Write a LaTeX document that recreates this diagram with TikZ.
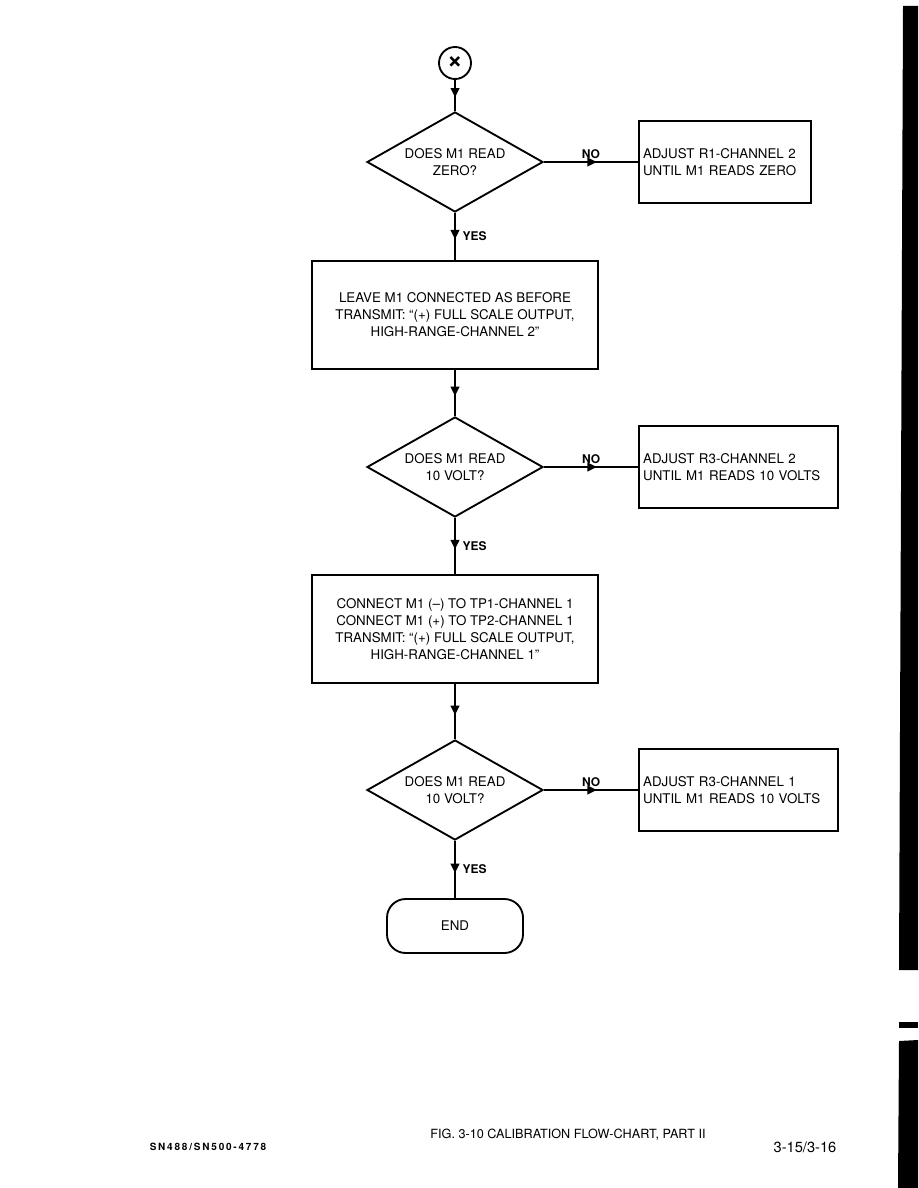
\documentclass[tikz,border=0pt]{standalone}
\usepackage{fontspec}
\setmainfont{TeX Gyre Heros}
\usepackage{tikz}
\usetikzlibrary{
    positioning,
    arrows.meta,
    shapes.geometric,
    decorations.markings,
    calc
}
\tikzset{
    chart/.style={
        font=\fontsize{10}{12.75}\selectfont,
        draw,
        line width=1.4pt,
        fill=white,
    },
    decision/.style={
        chart,
        diamond,
        aspect=1.76,
        minimum width=132pt,
        minimum height=75pt,
        inner sep=0pt,
        align=center,
    },
    stepbox/.style={
        chart,
        rectangle,
        minimum width=214pt,
        minimum height=81.5pt,
        align=center,
    },
    fixbox/.style={
        chart,
        rectangle,
        minimum height=61pt,
        inner xsep=3pt,
        align=left,
    },
    term/.style={
        chart,
        rectangle,
        rounded corners=14pt,
        minimum width=102pt,
        minimum height=40.5pt,
    },
    connector/.style={
        chart,
        circle,
        minimum size=24pt,
        inner sep=0pt,
    },
    flow/.style={
        line width=1.4pt,
        decoration={markings,
            mark=at position 0.56 with {\arrow{Triangle[length=7pt,width=6.5pt]}}},
        postaction={decorate},
    },
    answer/.style={
        font=\bfseries\fontsize{9}{10}\selectfont,
        inner sep=2pt,
    },
}

\begin{document}
\begin{tikzpicture}[x=0.75pt,y=-0.75pt]

    \tikzset{
        node distance=114pt and 202.5pt,
        on grid,
        capt/.style={inner sep=0pt},
    }

    \useasboundingbox (0,0) rectangle (918,1188);

    \node[connector] (start) at (455,63) {\bfseries\fontsize{20}{20}\selectfont ×};
    \node[decision,below=74.25pt of start] (zero) {DOES M1 READ\\ZERO?};
    \node[fixbox,text width=123pt,right=of zero] (adjzero) {ADJUST R1-CHANNEL 2\\UNTIL M1 READS ZERO};

    \node[stepbox,below=114.75pt of zero] (leave) {LEAVE M1 CONNECTED AS BEFORE\\TRANSMIT: ``(+) FULL SCALE OUTPUT,\\HIGH-RANGE-CHANNEL 2''};

    \node[decision,below=114pt of leave] (volttwo) {DOES M1 READ\\10 VOLT?};
    \node[fixbox,text width=143pt,right=212.6pt of volttwo] (adjtwo) {ADJUST R3-CHANNEL 2\\UNTIL M1 READS 10 VOLTS};

    \node[stepbox,below=121.5pt of volttwo] (connect) {CONNECT M1 (--) TO TP1-CHANNEL 1\\CONNECT M1 (+) TO TP2-CHANNEL 1\\TRANSMIT: ``(+) FULL SCALE OUTPUT,\\HIGH-RANGE-CHANNEL 1''};

    \node[decision,below=120.75pt of connect] (voltone) {DOES M1 READ\\10 VOLT?};
    \node[fixbox,text width=143pt,right=212.6pt of voltone] (adjone) {ADJUST R3-CHANNEL 1\\UNTIL M1 READS 10 VOLTS};

    \node[term,below=102pt of voltone] (finish) {END};

    \draw[flow] (start) to[] (zero);
    \draw[flow] (zero) to[] node[answer,above,pos=0.5] {NO} (adjzero);
    \draw[flow] (zero) to[] node[answer,right,pos=0.5,xshift=3pt] {YES} (leave);
    \draw[flow] (leave) to[] (volttwo);
    \draw[flow] (volttwo) to[] node[answer,above,pos=0.5] {NO} (adjtwo);
    \draw[flow] (volttwo) to[] node[answer,right,pos=0.5,xshift=3pt] {YES} (connect);
    \draw[flow] (connect) to[] (voltone);
    \draw[flow] (voltone) to[] node[answer,above,pos=0.5] {NO} (adjone);
    \draw[flow] (voltone) to[] node[answer,right,pos=0.5,xshift=3pt] {YES} (finish);

    % page footer
    \node[capt,font=\fontsize{9.5}{11}\selectfont] (figtitle) at (568,1135) {FIG. 3-10 CALIBRATION FLOW-CHART, PART II};
    \node[capt,font=\bfseries\fontsize{7.5}{9}\selectfont\addfontfeatures{LetterSpace=18}] (docnum) at (208,1147) {SN488/SN500-4778};
    \node[capt,font=\fontsize{11}{12}\selectfont] (pagenum) at (805,1147) {3-15/3-16};

    % scan edge
    \fill (903,6) -- (918,6) -- (918,970) -- (899,970) -- cycle;
    \fill (899,1022) rectangle (918,1028);
    \fill (899,1041) -- (918,1040) -- (918,1188) -- (898,1188) -- cycle;
\end{tikzpicture}
\end{document}
